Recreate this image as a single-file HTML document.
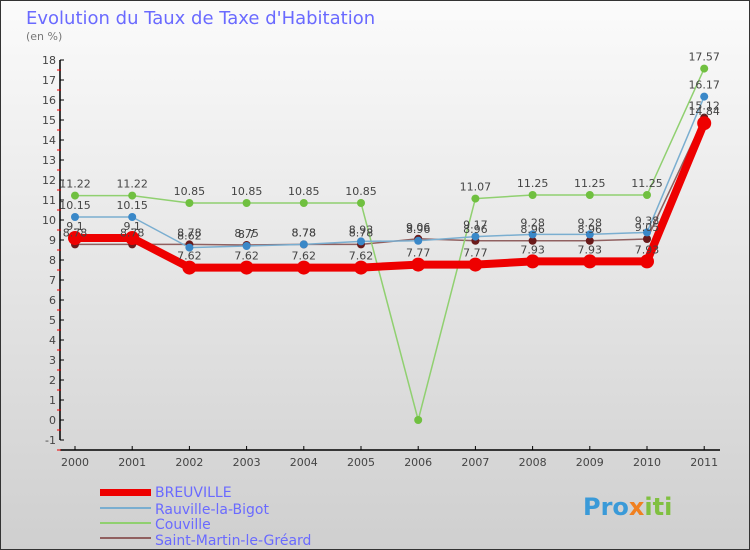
<!DOCTYPE html>
<html><head><meta charset="utf-8"><style>
body{margin:0;}
#wrap{width:750px;height:550px;position:relative;overflow:hidden;font-family:"DejaVu Sans","Liberation Sans",sans-serif;}
svg text{font-family:"DejaVu Sans","Liberation Sans",sans-serif;}
</style></head><body>
<div id="wrap">
<svg id="chart" width="750" height="550" xmlns="http://www.w3.org/2000/svg">
<defs><linearGradient id="bg" x1="0" y1="0" x2="0" y2="1"><stop offset="0" stop-color="#fbfbfb"/><stop offset="1" stop-color="#cfcfcf"/></linearGradient></defs>
<rect x="0.5" y="0.5" width="749" height="549" fill="url(#bg)" stroke="#333"/>
<text x="26" y="24" font-size="18" fill="#6a6aff">Evolution du Taux de Taxe d'Habitation</text>
<text x="26" y="40" font-size="11" fill="#777">(en %)</text>
<g id="axes"></g><g id="series"></g><g id="labels"></g>
<g>
<rect x="100" y="489" width="51" height="7" fill="#e00"/>
<text x="155" y="497" font-size="14" fill="#6a6aff">BREUVILLE</text>
<rect x="100" y="507" width="51" height="2" fill="#7aaed0"/>
<text x="155" y="514" font-size="14" fill="#6a6aff">Rauville-la-Bigot</text>
<rect x="100" y="522" width="51" height="2" fill="#90d070"/>
<text x="155" y="529" font-size="14" fill="#6a6aff">Couville</text>
<rect x="100" y="537" width="51" height="2" fill="#906060"/>
<text x="155" y="545" font-size="14" fill="#6a6aff">Saint-Martin-le-Gréard</text>
</g>
<text x="583" y="515" font-size="24" font-weight="bold" fill="#3a9ad8">Pro<tspan fill="#f08020">x</tspan><tspan fill="#80c040">iti</tspan></text>
</svg>
</div>
<script>
const years=[2000,2001,2002,2003,2004,2005,2006,2007,2008,2009,2010,2011];
const breuville=[9.1,9.1,7.62,7.62,7.62,7.62,7.77,7.77,7.93,7.93,7.93,14.84];
const rauville=[10.15,10.15,8.62,8.7,8.78,8.93,8.96,9.17,9.28,9.28,9.38,16.17];
const couville=[11.22,11.22,10.85,10.85,10.85,10.85,0,11.07,11.25,11.25,11.25,17.57];
const saintMartin=[8.78,8.78,8.78,8.75,8.78,8.78,9.06,8.96,8.96,8.96,9.05,15.12];
const yTicks=[-1,0,1,2,3,4,5,6,7,8,9,10,11,12,13,14,15,16,17,18];
const NS="http://www.w3.org/2000/svg";
function X(i){return 75+i*57.2;}
function Y(v){return 420-v*20;}
function mk(tag,attrs,parent){const e=document.createElementNS(NS,tag);for(const k in attrs)e.setAttribute(k,attrs[k]);parent.appendChild(e);return e;}
const axes=document.getElementById('axes');
let yl=mk('line',{x1:60,y1:Y(18),x2:60,y2:Y(-1),stroke:'#000','stroke-width':1.5},axes);


let xl=mk('line',{x1:60,y1:450,x2:720,y2:450,stroke:'#000','stroke-width':1.5},axes);


yTicks.forEach(v=>{
  mk('line',{x1:60,y1:Y(v),x2:64,y2:Y(v),stroke:'#000'},axes);
  mk('line',{x1:57,y1:Y(v)+10,x2:61,y2:Y(v)+10,stroke:'#e00'},axes);
  const t=mk('text',{x:56,y:Y(v)+4,'font-size':11,fill:'#444','text-anchor':'end'},axes);
  t.textContent=v;
  
  
});
years.forEach((yr,i)=>{
  mk('line',{x1:X(i),y1:446,x2:X(i),y2:450,stroke:'#000'},axes);
  const t=mk('text',{x:X(i),y:466,'font-size':11,fill:'#444','text-anchor':'middle'},axes);
  t.textContent=yr;
  
  
});
const sg=document.getElementById('series'),lg=document.getElementById('labels');
function draw(vals,color,dot,w,r,name,order){
  const p=mk('polyline',{points:vals.map((v,i)=>X(i)+','+Y(v)).join(' '),fill:'none',stroke:color,'stroke-width':w,'stroke-linejoin':'round'},sg);
  
  
  vals.forEach((v,i)=>{
    const c=mk('circle',{cx:X(i),cy:Y(v),r:r,fill:dot},sg);
    
    
    const t=mk('text',{x:X(i),y:Y(v)-8,'font-size':11,fill:'#444','text-anchor':'middle'},lg);
    t.textContent=String(v).replace(/\.?0+$/,'').replace(/^(\d+)$/,'$1');
    
    
  });
}
draw(saintMartin,'#906060','#6a1a1a',1.5,4,'saint-martin');
draw(couville,'#90d070','#70c040',1.5,4,'couville');
draw(rauville,'#7aaed0','#3a88c8',1.5,4,'rauville');
draw(breuville,'#e00','#e00',8,7,'breuville');
</script>
</body></html>
